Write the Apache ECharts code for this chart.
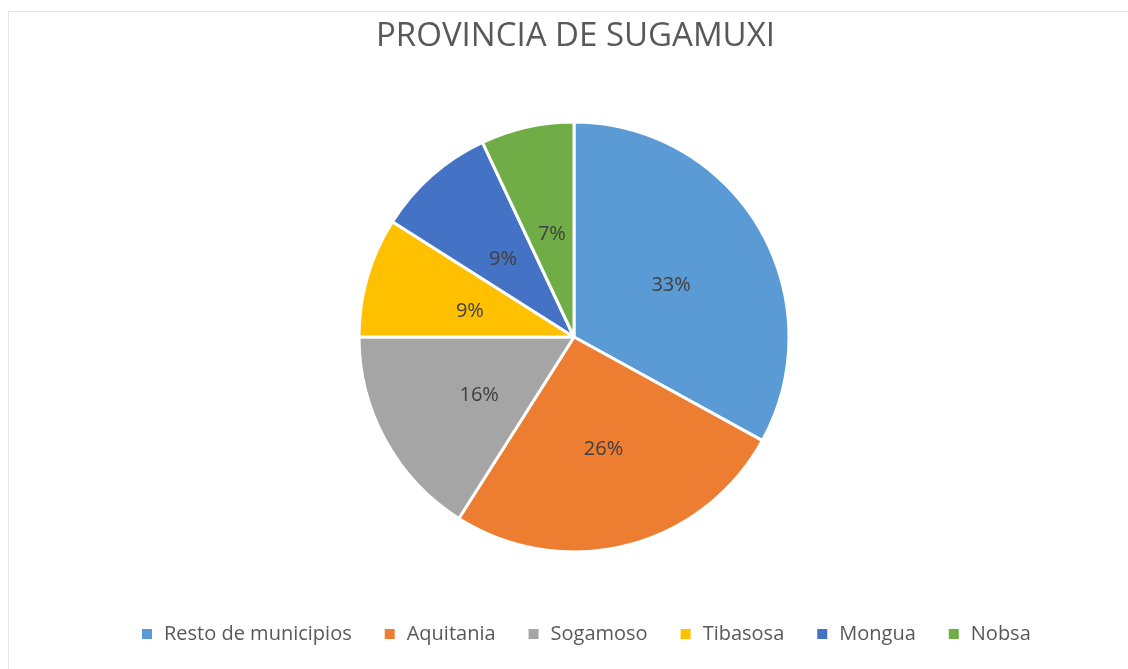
<!DOCTYPE html>
<html>
<head>
<meta charset="utf-8">
<script src="https://cdn.jsdelivr.net/npm/echarts@6/dist/echarts.min.js"></script>
<style>
  html, body { margin: 0; padding: 0; background: #fff; }
  #frame {
    position: absolute; left: 8px; top: 11px; width: 1130px; height: 670px;
    border: 1px solid #e3e3e3; box-sizing: border-box;
  }
  #chart { position: absolute; left: 0; top: 0; width: 1128px; height: 669px; }
</style>
</head>
<body>
<div id="frame"></div>
<div id="chart"></div>
<script>
// municipios y su porcentaje
var categories = ['Resto de municipios', 'Aquitania', 'Sogamoso', 'Tibasosa', 'Mongua', 'Nobsa'];
var values = [33, 26, 16, 9, 9, 7];
var colors = ['#5B9BD5', '#ED7D31', '#A5A5A5', '#FFC000', '#4472C4', '#70AD47'];

var myChart = echarts.init(document.getElementById('chart'));

var pieData = categories.map(function (name, i) {
  return { name: name, value: values[i], itemStyle: { color: colors[i] } };
});

myChart.setOption({
  animation: false,
  title: {
    text: 'PROVINCIA DE SUGAMUXI',
    left: 371,
    top: 15,
    textStyle: {
      fontFamily: 'Open Sans',
      fontSize: 33,
      fontWeight: 'normal',
      color: '#595959'
    }
  },
  legend: {
    bottom: 20,
    left: 135,
    itemWidth: 12,
    itemHeight: 12,
    itemGap: 31,
    icon: 'rect',
    textStyle: {
      fontFamily: 'Open Sans',
      fontSize: 20,
      color: '#595959',
      padding: [0, 0, 0, 6]
    },
    data: categories
  },
  series: [
    {
      type: 'pie',
      center: [574, 337],
      radius: [0, 215],
      startAngle: 90,
      clockwise: true,
      itemStyle: {
        borderColor: '#ffffff',
        borderWidth: 3
      },
      label: {
        position: 'inside',
        formatter: '{c}%',
        fontFamily: 'Open Sans',
        fontSize: 20,
        color: '#404040',
        offset: [2, 5]
      },
      labelLine: { show: false },
      emphasis: { scale: false },
      data: pieData
    }
  ]
});
</script>
</body>
</html>
